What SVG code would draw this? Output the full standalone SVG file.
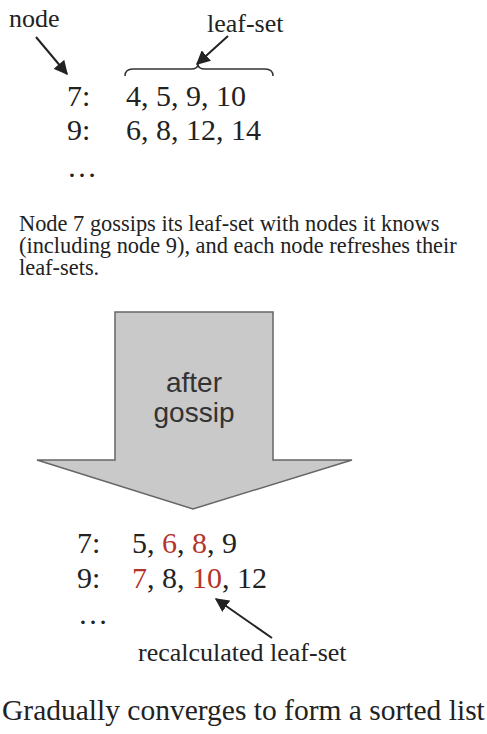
<svg xmlns="http://www.w3.org/2000/svg" width="487" height="734" viewBox="0 0 487 734">
<style>
.t{font-family:"Liberation Serif","Times New Roman",serif;fill:#222}
.lbl{font-size:26px}
.row{font-size:30px}
.para{font-size:22.4px}
.red{fill:#b5342a}
.conn{stroke:#222;stroke-width:2;fill:none}
.big{font-family:"Liberation Sans",Arial,sans-serif;font-size:28px;fill:#333;text-anchor:middle}
</style>
<defs>
<marker id="ah2" viewBox="0 0 10 10" refX="9" refY="5" markerWidth="7" markerHeight="7" orient="auto">
<path d="M0,0 L10,5 L0,10 z" fill="#222"/>
</marker>
</defs>
<rect width="487" height="734" fill="#fff"/>

<g id="connectors">
<path class="conn" d="M36,37 L67,74" marker-end="url(#ah2)"/>
<path class="conn" d="M228,36 L197,64" marker-end="url(#ah2)"/>
<path class="conn" d="M272,638 L216,599" marker-end="url(#ah2)"/>
<path d="M125,76 Q125,69 133,69 L191,69 Q198,69 198,64 Q198,69 205,69 L265,69 Q273,69 273,76" fill="none" stroke="#333" stroke-width="1.5"/>
</g>

<g id="label-node"><text class="t lbl" x="9" y="27">node</text></g>
<g id="label-leafset"><text class="t lbl" x="207" y="32">leaf-set</text></g>

<g id="before">
<text class="t row" x="67" y="106">7:</text>
<text class="t row" x="126" y="106">4, 5, 9, 10</text>
<text class="t row" x="67" y="140">9:</text>
<text class="t row" x="126" y="140">6, 8, 12, 14</text>
<text class="t row" x="67" y="177">…</text>
</g>

<g id="paragraph">
<text class="t para" x="19" y="231">Node 7 gossips its leaf-set with nodes it knows</text>
<text class="t para" x="19" y="253">(including node 9), and each node refreshes their</text>
<text class="t para" x="19" y="275">leaf-sets.</text>
</g>

<g id="gossip-arrow">
<path d="M115,312 L273,312 L273,460 L352,460 L193,509 L37,460 L115,460 Z" fill="#c9c9c9" stroke="#666" stroke-width="1.5" stroke-linejoin="miter"/>
<text class="big" x="194" y="392">after</text>
<text class="big" x="194" y="422">gossip</text>
</g>

<g id="after">
<text class="t row" x="77" y="553">7:</text>
<text class="t row" x="132" y="553">5, <tspan class="red">6</tspan>, <tspan class="red">8</tspan>, 9</text>
<text class="t row" x="77" y="588">9:</text>
<text class="t row" x="132" y="588"><tspan class="red">7</tspan>, 8, <tspan class="red">10</tspan>, 12</text>
<text class="t row" x="78" y="624">…</text>
</g>

<g id="label-recalc"><text class="t lbl" x="138" y="661">recalculated leaf-set</text></g>

<g id="conclusion"><text class="t" style="font-size:29.5px" x="2" y="720">Gradually converges to form a sorted list</text></g>
</svg>
